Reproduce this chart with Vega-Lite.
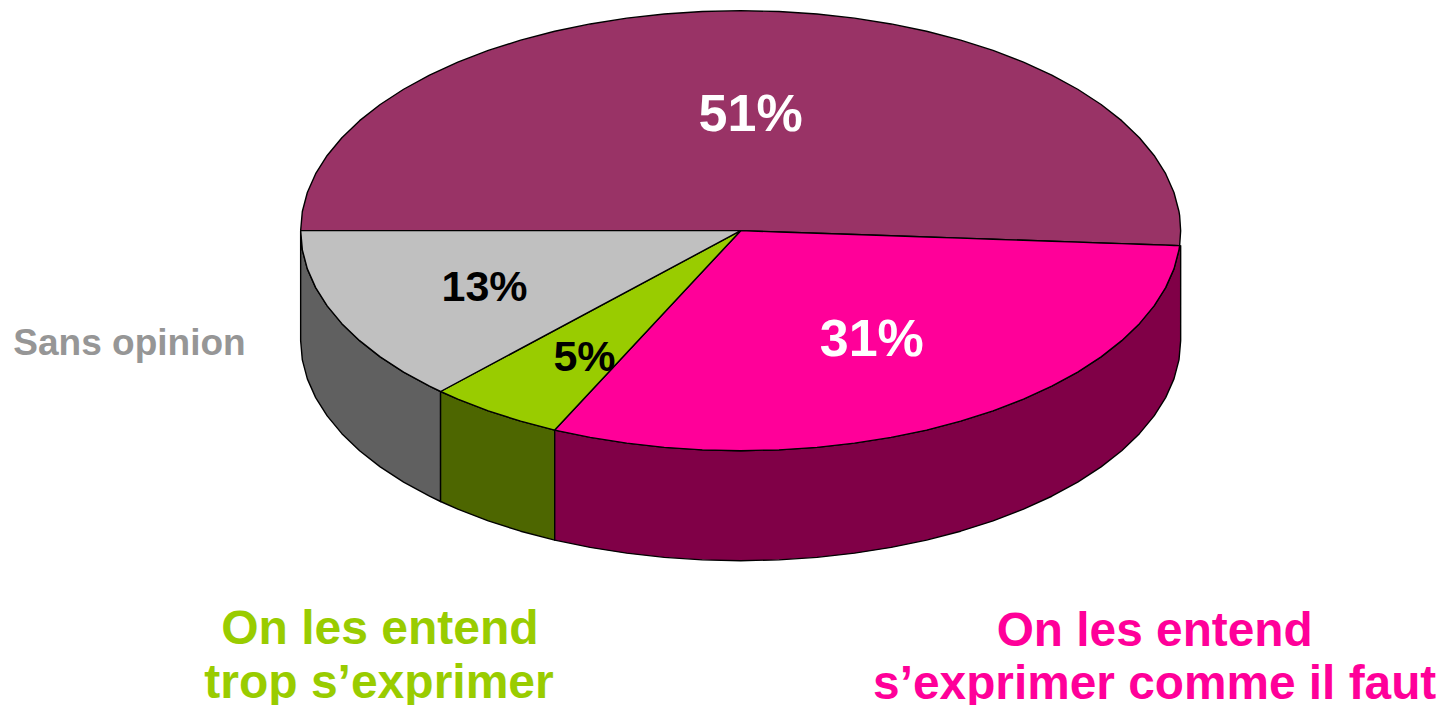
{"$schema":"https://vega.github.io/schema/vega-lite/v6.json","width":1444,"height":705,"padding":0,"autosize":"none","background":"white","view":{"stroke":null},
"config":{"text":{"font":"Liberation Sans","fontWeight":"bold"}},
"encoding":{
"x":{"field":"x","type":"quantitative","scale":{"domain":[-168.33,159.85],"nice":false,"zero":false},"axis":null},
"y":{"field":"y","type":"quantitative","stack":null,"scale":{"domain":[-215.6,104.85],"nice":false,"zero":false},"axis":null}
},
"layer":[
{"data":{"values":[
{"part":"13% side","x":-100,"y":0,"y2":-50},{"part":"13% side","x":-99.62,"y":-8.72,"y2":-58.72},{"part":"13% side","x":-98.48,"y":-17.36,"y2":-67.36},{"part":"13% side","x":-96.59,"y":-25.88,"y2":-75.88},{"part":"13% side","x":-93.97,"y":-34.2,"y2":-84.2},{"part":"13% side","x":-90.63,"y":-42.26,"y2":-92.26},{"part":"13% side","x":-86.6,"y":-50,"y2":-100},{"part":"13% side","x":-81.92,"y":-57.36,"y2":-107.36},{"part":"13% side","x":-76.6,"y":-64.28,"y2":-114.28},{"part":"13% side","x":-70.71,"y":-70.71,"y2":-120.71},{"part":"13% side","x":-68.2,"y":-73.1,"y2":-123.1},
{"part":"5% side","x":-68.2,"y":-73.1,"y2":-123.1},{"part":"5% side","x":-64.28,"y":-76.6,"y2":-126.6},{"part":"5% side","x":-57.36,"y":-81.92,"y2":-131.92},{"part":"5% side","x":-50,"y":-86.6,"y2":-136.6},{"part":"5% side","x":-42.26,"y":-90.63,"y2":-140.63},
{"part":"31% side","x":-42.26,"y":-90.63,"y2":-140.63},{"part":"31% side","x":-34.2,"y":-93.97,"y2":-143.97},{"part":"31% side","x":-25.88,"y":-96.59,"y2":-146.59},{"part":"31% side","x":-17.36,"y":-98.48,"y2":-148.48},{"part":"31% side","x":-8.72,"y":-99.62,"y2":-149.62},{"part":"31% side","x":0,"y":-100,"y2":-150},{"part":"31% side","x":8.72,"y":-99.62,"y2":-149.62},{"part":"31% side","x":17.36,"y":-98.48,"y2":-148.48},{"part":"31% side","x":25.88,"y":-96.59,"y2":-146.59},{"part":"31% side","x":34.2,"y":-93.97,"y2":-143.97},{"part":"31% side","x":42.26,"y":-90.63,"y2":-140.63},{"part":"31% side","x":50,"y":-86.6,"y2":-136.6},{"part":"31% side","x":57.36,"y":-81.92,"y2":-131.92},{"part":"31% side","x":64.28,"y":-76.6,"y2":-126.6},{"part":"31% side","x":70.71,"y":-70.71,"y2":-120.71},{"part":"31% side","x":76.6,"y":-64.28,"y2":-114.28},{"part":"31% side","x":81.92,"y":-57.36,"y2":-107.36},{"part":"31% side","x":86.6,"y":-50,"y2":-100},{"part":"31% side","x":90.63,"y":-42.26,"y2":-92.26},{"part":"31% side","x":93.97,"y":-34.2,"y2":-84.2},{"part":"31% side","x":96.59,"y":-25.88,"y2":-75.88},{"part":"31% side","x":98.48,"y":-17.36,"y2":-67.36},{"part":"31% side","x":99.62,"y":-8.72,"y2":-58.72},{"part":"31% side","x":100,"y":-6.8,"y2":-50},
{"part":"51%","x":-100,"y":0,"y2":0},{"part":"51%","x":-99.62,"y":8.72,"y2":0},{"part":"51%","x":-98.48,"y":17.36,"y2":0},{"part":"51%","x":-96.59,"y":25.88,"y2":0},{"part":"51%","x":-93.97,"y":34.2,"y2":0},{"part":"51%","x":-90.63,"y":42.26,"y2":0},{"part":"51%","x":-86.6,"y":50,"y2":0},{"part":"51%","x":-81.92,"y":57.36,"y2":0},{"part":"51%","x":-76.6,"y":64.28,"y2":0},{"part":"51%","x":-70.71,"y":70.71,"y2":0},{"part":"51%","x":-64.28,"y":76.6,"y2":0},{"part":"51%","x":-57.36,"y":81.92,"y2":0},{"part":"51%","x":-50,"y":86.6,"y2":0},{"part":"51%","x":-42.26,"y":90.63,"y2":0},{"part":"51%","x":-34.2,"y":93.97,"y2":0},{"part":"51%","x":-25.88,"y":96.59,"y2":0},{"part":"51%","x":-17.36,"y":98.48,"y2":0},{"part":"51%","x":-8.72,"y":99.62,"y2":0},{"part":"51%","x":0,"y":100,"y2":0},{"part":"51%","x":8.72,"y":99.62,"y2":-0.59},{"part":"51%","x":17.36,"y":98.48,"y2":-1.18},{"part":"51%","x":25.88,"y":96.59,"y2":-1.76},{"part":"51%","x":34.2,"y":93.97,"y2":-2.33},{"part":"51%","x":42.26,"y":90.63,"y2":-2.88},{"part":"51%","x":50,"y":86.6,"y2":-3.41},{"part":"51%","x":57.36,"y":81.92,"y2":-3.91},{"part":"51%","x":64.28,"y":76.6,"y2":-4.38},{"part":"51%","x":70.71,"y":70.71,"y2":-4.82},{"part":"51%","x":76.6,"y":64.28,"y2":-5.22},{"part":"51%","x":81.92,"y":57.36,"y2":-5.59},{"part":"51%","x":86.6,"y":50,"y2":-5.91},{"part":"51%","x":90.63,"y":42.26,"y2":-6.18},{"part":"51%","x":93.97,"y":34.2,"y2":-6.41},{"part":"51%","x":96.59,"y":25.88,"y2":-6.59},{"part":"51%","x":98.48,"y":17.36,"y2":-6.72},{"part":"51%","x":99.62,"y":8.72,"y2":-6.79},{"part":"51%","x":99.77,"y":6.8,"y2":-6.8},{"part":"51%","x":100,"y":0,"y2":0},
{"part":"31%","x":-42.26,"y":-90.63,"y2":-90.63},{"part":"31%","x":-34.2,"y":-73.34,"y2":-93.97},{"part":"31%","x":-25.88,"y":-55.5,"y2":-96.59},{"part":"31%","x":-17.36,"y":-37.23,"y2":-98.48},{"part":"31%","x":-8.72,"y":-18.7,"y2":-99.62},{"part":"31%","x":0,"y":0,"y2":-100},{"part":"31%","x":8.72,"y":-0.59,"y2":-99.62},{"part":"31%","x":17.36,"y":-1.18,"y2":-98.48},{"part":"31%","x":25.88,"y":-1.76,"y2":-96.59},{"part":"31%","x":34.2,"y":-2.33,"y2":-93.97},{"part":"31%","x":42.26,"y":-2.88,"y2":-90.63},{"part":"31%","x":50,"y":-3.41,"y2":-86.6},{"part":"31%","x":57.36,"y":-3.91,"y2":-81.92},{"part":"31%","x":64.28,"y":-4.38,"y2":-76.6},{"part":"31%","x":70.71,"y":-4.82,"y2":-70.71},{"part":"31%","x":76.6,"y":-5.22,"y2":-64.28},{"part":"31%","x":81.92,"y":-5.59,"y2":-57.36},{"part":"31%","x":86.6,"y":-5.91,"y2":-50},{"part":"31%","x":90.63,"y":-6.18,"y2":-42.26},{"part":"31%","x":93.97,"y":-6.41,"y2":-34.2},{"part":"31%","x":96.59,"y":-6.59,"y2":-25.88},{"part":"31%","x":98.48,"y":-6.72,"y2":-17.36},{"part":"31%","x":99.62,"y":-6.79,"y2":-8.72},{"part":"31%","x":99.77,"y":-6.8,"y2":-6.8},
{"part":"5%","x":-68.2,"y":-73.1,"y2":-73.1},{"part":"5%","x":-64.28,"y":-68.9,"y2":-76.6},{"part":"5%","x":-57.36,"y":-61.49,"y2":-81.92},{"part":"5%","x":-50,"y":-53.6,"y2":-86.6},{"part":"5%","x":-42.26,"y":-45.3,"y2":-90.63},{"part":"5%","x":0,"y":0,"y2":0},
{"part":"13%","x":-100,"y":0,"y2":0},{"part":"13%","x":-99.62,"y":0,"y2":-8.72},{"part":"13%","x":-98.48,"y":0,"y2":-17.36},{"part":"13%","x":-96.59,"y":0,"y2":-25.88},{"part":"13%","x":-93.97,"y":0,"y2":-34.2},{"part":"13%","x":-90.63,"y":0,"y2":-42.26},{"part":"13%","x":-86.6,"y":0,"y2":-50},{"part":"13%","x":-81.92,"y":0,"y2":-57.36},{"part":"13%","x":-76.6,"y":0,"y2":-64.28},{"part":"13%","x":-70.71,"y":0,"y2":-70.71},{"part":"13%","x":-68.2,"y":0,"y2":-73.1},{"part":"13%","x":0,"y":0,"y2":0}
]},
"mark":{"type":"area","orient":"vertical","stroke":"black","strokeWidth":1.4,"strokeJoin":"round","opacity":1},
"encoding":{
"y2":{"field":"y2"},
"color":{"field":"part","type":"nominal","legend":null,"scale":{"domain":["51%","31%","5%","13%","31% side","5% side","13% side"],"range":["#993366","#FF0099","#99CC00","#C0C0C0","#800047","#4D6600","#606060"]}}
}},
{"data":{"values":[{"label":"51%","x":2.27,"y":52.6},{"label":"31%","x":29.8,"y":-49.7}]},
"mark":{"type":"text","fontSize":52,"color":"white"},
"encoding":{"text":{"field":"label"}}},
{"data":{"values":[{"label":"13%","x":-58.2,"y":-26.2},{"label":"5%","x":-35.5,"y":-58.0}]},
"mark":{"type":"text","fontSize":43,"color":"black"},
"encoding":{"text":{"field":"label"}}},
{"data":{"values":[{"label":"Sans opinion","x":-138.9,"y":-51.5}]},
"mark":{"type":"text","fontSize":37,"color":"#969696"},
"encoding":{"text":{"field":"label"}}},
{"data":{"values":[{"label":"On les entend","x":-82,"y":-181.5},{"label":"trop s’exprimer","x":-82.2,"y":-206}]},
"mark":{"type":"text","fontSize":48,"color":"#99CC00"},
"encoding":{"text":{"field":"label"}}},
{"data":{"values":[{"label":"On les entend","x":94.1,"y":-182.3},{"label":"s’exprimer comme il faut","x":94.1,"y":-206.3}]},
"mark":{"type":"text","fontSize":47.8,"color":"#FF0099"},
"encoding":{"text":{"field":"label"}}}
]}
